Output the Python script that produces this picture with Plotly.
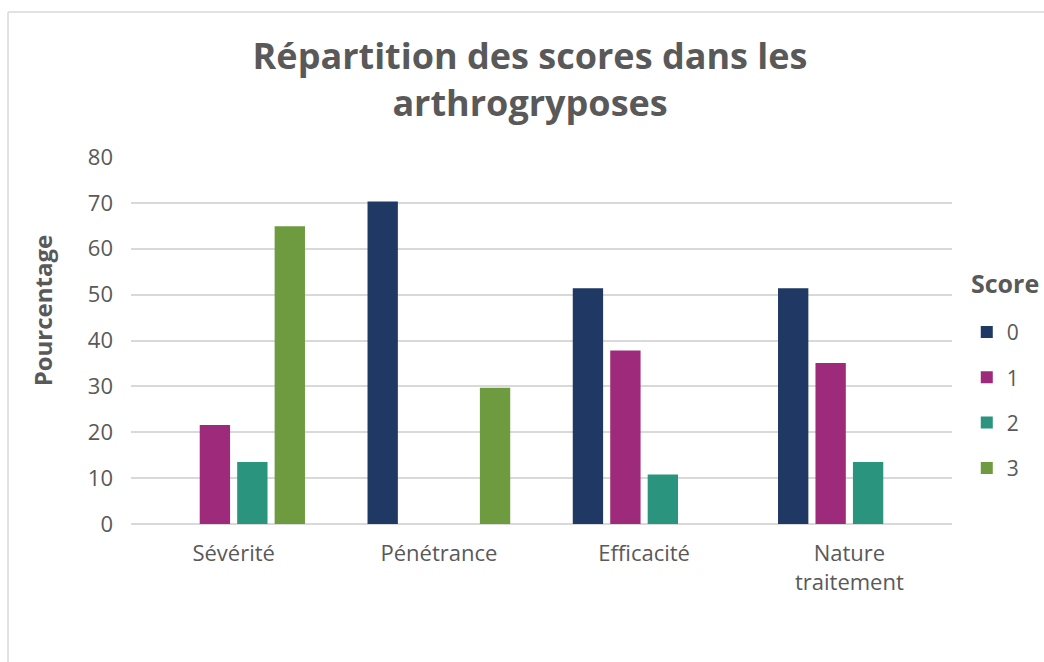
import plotly.graph_objects as go

categories = ["Sévérité", "Pénétrance", "Efficacité", "Nature<br>traitement"]
score_names = ["0", "1", "2", "3"]
score_0 = [None, 70.3, 51.4, 51.4]
score_1 = [21.6, None, 37.8, 35.1]
score_2 = [13.5, None, 10.8, 13.5]
score_3 = [64.9, 29.7, None, None]
colors = ["#203864", "#9E2A7C", "#2A947E", "#6E9B3F"]

FONT = "Open Sans, Lato, sans-serif"
GREY = "#595959"

fig = go.Figure()
for name, vals, col in zip(score_names, [score_0, score_1, score_2, score_3], colors):
    fig.add_trace(go.Bar(
        name=name, x=categories, y=vals,
        marker=dict(color=col, line=dict(width=0)),
        legendgroup=name,
    ))

fig.update_layout(
    width=1044, height=662,
    paper_bgcolor="white", plot_bgcolor="white",
    barmode="group", bargap=0.27, bargroupgap=0.19,
    font=dict(family=FONT, color=GREY, size=20),
    margin=dict(l=131, r=92, t=157, b=138, autoexpand=False),
    title=dict(
        text="<b>Répartition des scores dans les<br>arthrogryposes</b>",
        x=0.5077, xanchor="center", y=0.896, yanchor="top",
        font=dict(size=36, color=GREY, family=FONT),
    ),
    legend=dict(
        x=1.018, xanchor="left", y=0.578, yanchor="top",
        font=dict(size=21), tracegroupgap=15,
        itemwidth=30,
    ),
    xaxis=dict(
        showgrid=False, showline=False, ticks="", automargin=False,
        tickfont=dict(size=22), ticklabelstandoff=14,
    ),
    yaxis=dict(
        range=[0, 80], dtick=10, automargin=False,
        showgrid=True, gridcolor="#D9D9D9", gridwidth=1.5,
        zeroline=True, zerolinecolor="#D9D9D9", zerolinewidth=1.5,
        showline=False, ticks="", ticklabelstandoff=17,
        tickfont=dict(size=22),
    ),
)

fig.add_annotation(
    text="<b>Pourcentage</b>", textangle=-90, showarrow=False,
    xref="paper", yref="paper", x=-0.108, y=0.583,
    xanchor="center", yanchor="middle",
    font=dict(size=24, color=GREY, family=FONT),
)
# legend title
fig.add_annotation(
    text="<b>Score</b>", showarrow=False,
    xref="paper", yref="paper", x=1.065, y=0.657,
    xanchor="center", yanchor="middle",
    font=dict(size=25, color=GREY, family=FONT),
)

# chart area border
fig.add_shape(type="line", xref="paper", yref="paper",
              x0=-0.1498, x1=1.2, y0=1.395, y1=1.395,
              line=dict(color="#D9D9D9", width=1.5))
fig.add_shape(type="line", xref="paper", yref="paper",
              x0=-0.1498, x1=-0.1498, y0=1.395, y1=-0.5,
              line=dict(color="#D9D9D9", width=1.5))

# no page margin so the figure fills the window exactly
fig.write_html("out.html", config={"displayModeBar": False},
               post_script="document.body.style.margin='0';")
